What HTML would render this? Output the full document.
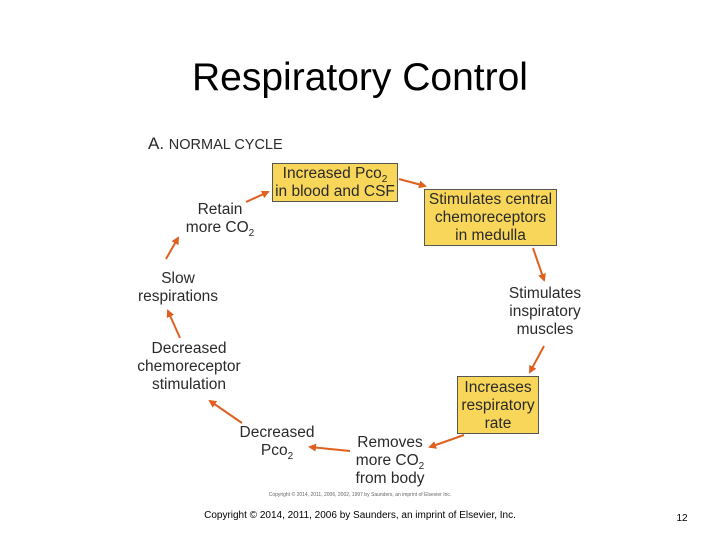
<!DOCTYPE html>
<html><head><style>
body{margin:0;width:720px;height:540px;background:#fff;position:relative;overflow:hidden;font-family:"Liberation Sans",sans-serif;}
.t{position:absolute;text-align:center;color:#2a2a2a;font-size:15.5px;line-height:18px;white-space:nowrap}
.b{position:absolute;background:#f8d65a;border:1.5px solid #555;box-sizing:border-box;text-align:center;color:#2a2a2a;font-size:15.5px;line-height:18px;white-space:nowrap}
sub{font-size:10px;line-height:0}
</style></head><body>
<div style="position:absolute;left:0;width:720px;top:56px;text-align:center;font-size:39px;color:#000">Respiratory Control</div>
<div class="t" style="left:148px;top:135px;font-size:17px;text-align:left">A. <span style="font-size:14.5px">NORMAL CYCLE</span></div>
<div class="b" style="left:272px;top:163px;width:126px;height:39px;padding-top:1px">Increased Pco<sub>2</sub><br>in blood and CSF</div>
<div class="b" style="left:424px;top:189px;width:133px;height:57px;padding-top:1px">Stimulates central<br>chemoreceptors<br>in medulla</div>
<div class="b" style="left:457px;top:376px;width:82px;height:58px;padding-top:2px">Increases<br>respiratory<br>rate</div>
<div class="t" style="left:180px;top:201px;width:80px">Retain<br>more CO<sub>2</sub></div>
<div class="t" style="left:128px;top:270px;width:100px">Slow<br>respirations</div>
<div class="t" style="left:130px;top:340px;width:118px">Decreased<br>chemoreceptor<br>stimulation</div>
<div class="t" style="left:232px;top:424px;width:90px">Decreased<br>Pco<sub>2</sub></div>
<div class="t" style="left:345px;top:434px;width:90px">Removes<br>more CO<sub>2</sub><br>from body</div>
<div class="t" style="left:500px;top:285px;width:90px">Stimulates<br>inspiratory<br>muscles</div>
<div class="t" style="left:200px;top:492px;width:320px;font-size:5px;line-height:6px;color:#666">Copyright © 2014, 2011, 2006, 2002, 1997 by Saunders, an imprint of Elsevier Inc.</div>
<div class="t" style="left:200px;top:507px;width:320px;font-size:10px;color:#000">Copyright © 2014, 2011, 2006 by Saunders, an imprint of Elsevier, Inc.</div>
<div class="t" style="left:670px;top:510px;width:24px;font-size:10px;color:#000">12</div>
<svg width="720" height="540" style="position:absolute;left:0;top:0">
<defs><marker id="a" markerWidth="8" markerHeight="8" refX="6" refY="4" orient="auto" markerUnits="userSpaceOnUse"><path d="M0,0 L8,4 L0,8 Z" fill="#e0601f"/></marker></defs>
<g stroke="#e0601f" stroke-width="2" fill="none" marker-end="url(#a)">
<line x1="246" y1="202" x2="268" y2="192"/>
<line x1="399" y1="179" x2="425" y2="186"/>
<line x1="533" y1="248" x2="544" y2="280"/>
<line x1="544" y1="346" x2="530" y2="372"/>
<line x1="464" y1="435" x2="430" y2="447"/>
<line x1="350" y1="451" x2="310" y2="447"/>
<line x1="242" y1="423" x2="210" y2="401"/>
<line x1="180" y1="338" x2="168" y2="311"/>
<line x1="166" y1="259" x2="178" y2="238"/>
</g></svg>
</body></html>
